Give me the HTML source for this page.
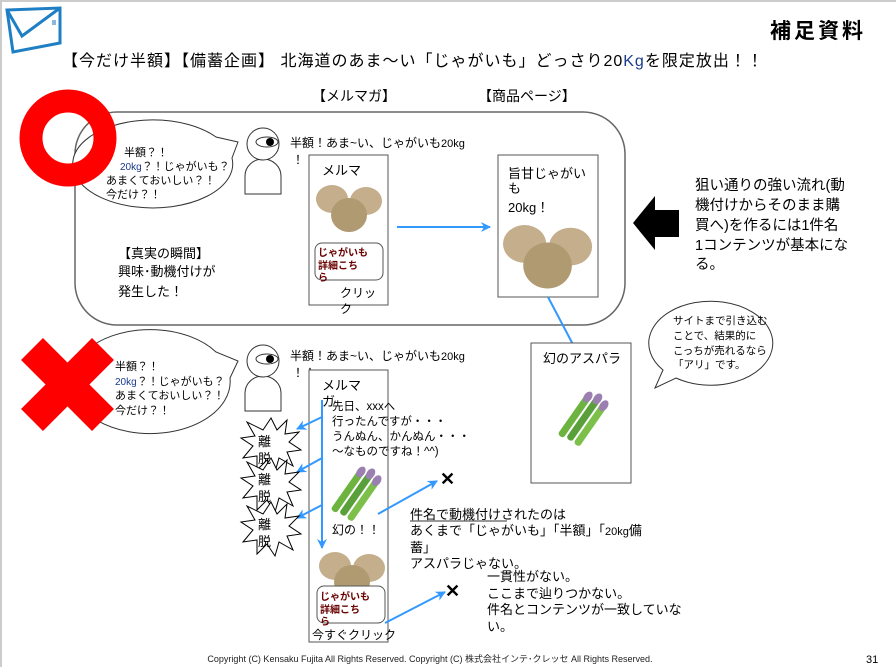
<!DOCTYPE html>
<html><head><meta charset="utf-8"><style>
html,body{margin:0;padding:0;background:#fff;}
svg{display:block;font-family:"Liberation Sans","Noto Sans CJK JP",sans-serif;}
</style></head><body>
<svg width="896" height="667" viewBox="0 0 896 667" xmlns="http://www.w3.org/2000/svg">
<defs>
<marker id="ab" markerWidth="10" markerHeight="10" refX="9" refY="5" orient="auto" markerUnits="userSpaceOnUse"><path d="M0,0 L10,5 L0,10 L3,5 Z" fill="#3399ff"/></marker>
<g id="pot">
<ellipse cx="16" cy="14" rx="16" ry="14" fill="#c4ae8c"/>
<ellipse cx="50" cy="16" rx="16" ry="14" fill="#c4ae8c"/>
<ellipse cx="33" cy="30" rx="18" ry="17" fill="#b09a72"/>
</g>
<g id="asp">
<g transform="rotate(35)">
<rect x="0" y="0" width="7" height="48" rx="3" fill="#6db33f"/>
<rect x="9" y="-4" width="7" height="50" rx="3" fill="#5aa03a"/>
<rect x="18" y="-2" width="7" height="48" rx="3" fill="#7cc04a"/>
<ellipse cx="3.5" cy="0" rx="4" ry="6" fill="#9a7fb0"/>
<ellipse cx="12.5" cy="-4" rx="4" ry="6" fill="#9a7fb0"/>
<ellipse cx="21.5" cy="-2" rx="4" ry="6" fill="#9a7fb0"/>
</g>
</g>
<path id="burst" d="M0,-26 L6,-14 L16,-24 L14,-10 L28,-12 L18,-2 L30,6 L16,8 L22,22 L8,14 L4,28 L-4,16 L-14,26 L-14,12 L-28,14 L-18,2 L-30,-6 L-16,-8 L-24,-22 L-8,-14 Z" fill="#fff" stroke="#000" stroke-width="1"/>
</defs>

<line x1="0" y1="1" x2="896" y2="1" stroke="#ccc" stroke-width="2"/>
<line x1="1" y1="0" x2="1" y2="667" stroke="#ccc" stroke-width="2"/>

<g stroke="#1f7fc4" stroke-width="3" fill="none">
<path d="M7,10 L60,8 L60,43 L13,52 Z"/>
<path d="M7,10 L22,36 L60,8"/>
</g>
<rect x="52" y="20" width="4" height="5" fill="#8ab7dd"/>

<text x="770" y="38" font-size="21" font-weight="bold" letter-spacing="3">補足資料</text>
<text x="62" y="66" font-size="16" letter-spacing="1">【今だけ半額】【備蓄企画】 北海道のあま～い「じゃがいも」どっさり20<tspan fill="#1a3a8a">Kg</tspan>を限定放出！！</text>
<text x="312" y="101" font-size="14">【メルマガ】</text>
<text x="478" y="101" font-size="14">【商品ページ】</text>

<rect x="75" y="112" width="550" height="213" rx="42" fill="none" stroke="#666" stroke-width="1.5"/>

<path d="M238,142 L232,158 A80,44 0 1 1 216,137 Z" fill="#fff" stroke="#333" stroke-width="1"/>
<circle cx="68" cy="138" r="37" fill="none" stroke="#f00" stroke-width="23"/>
<g font-size="11">
<text x="124" y="156">半額？！</text>
<text x="120" y="170"><tspan fill="#1a3a8a" font-size="10">20kg</tspan>？！じゃがいも？</text>
<text x="106" y="184">あまくておいしい？！</text>
<text x="106" y="198">今だけ？！</text>
</g>
<g font-size="13">
<text x="118" y="258">【真実の瞬間】</text>
<text x="118" y="276">興味･動機付けが</text>
<text x="118" y="296">発生した！</text>
</g>

<g fill="#fff" stroke="#333" stroke-width="1">
<path d="M245,194 L245,176 A18,17 0 0 1 281,176 L281,194 Z"/>
<circle cx="263" cy="144" r="16"/>
<ellipse cx="267" cy="142" rx="11" ry="5"/>
</g>
<circle cx="270" cy="142" r="4" fill="#000"/>
<text x="290" y="147" font-size="12">半額！あま~い、じゃがいも<tspan font-size="11">20kg</tspan></text>
<text x="292" y="164" font-size="12">！！</text>

<rect x="309" y="155" width="79" height="150" fill="#fff" stroke="#555" stroke-width="1"/>
<text x="322" y="175" font-size="13">メルマ</text>
<use href="#pot" x="316" y="185"/>
<rect x="315" y="243" width="68" height="37" rx="7" fill="#fff" stroke="#555"/>
<g font-size="10" font-weight="bold" fill="#6a0000">
<text x="318" y="256">じゃがいも</text>
<text x="318" y="269">詳細こち</text>
<text x="318" y="281">ら</text>
</g>
<text x="340" y="297" font-size="12">クリッ</text>
<text x="340" y="313" font-size="12">ク</text>

<line x1="397" y1="227" x2="490" y2="227" stroke="#3399ff" stroke-width="2" marker-end="url(#ab)"/>

<rect x="498" y="155" width="100" height="142" fill="#fff" stroke="#555"/>
<g font-size="13">
<text x="508" y="178">旨甘じゃがい</text>
<text x="508" y="193">も</text>
<text x="508" y="212">20kg！</text>
</g>
<g transform="translate(503,225) scale(1.35)"><use href="#pot"/></g>

<path d="M633,223 L655,196 L655,210 L679,210 L679,237 L655,237 L655,250 Z" fill="#000"/>
<g font-size="14.5">
<text x="695" y="190">狙い通りの強い流れ(動</text>
<text x="695" y="210">機付けからそのまま購</text>
<text x="695" y="230">買へ)を作るには1件名</text>
<text x="695" y="250">1コンテンツが基本にな</text>
<text x="695" y="269">る。</text>
</g>

<line x1="548" y1="297" x2="578" y2="354" stroke="#3399ff" stroke-width="2" marker-end="url(#ab)"/>
<rect x="531" y="343" width="100" height="140" fill="#fff" stroke="#555"/>
<text x="543" y="363" font-size="13">幻のアスパラ</text>
<use href="#asp" x="585" y="395"/>

<path d="M663,370 L655,388 L676,378 A62,42 0 1 0 663,370 Z" fill="#fff" stroke="#333"/>
<g font-size="10.5">
<text x="673" y="324">サイトまで引き込む</text>
<text x="673" y="339">ことで、結果的に</text>
<text x="673" y="354">こっちが売れるなら</text>
<text x="673" y="368">「アリ」です。</text>
</g>

<path d="M238,361 L230,378 A80,52 0 1 1 216,352 Z" fill="#fff" stroke="#333"/>
<g stroke="#f00" stroke-width="31"><line x1="32" y1="349" x2="103" y2="420"/><line x1="103" y1="349" x2="32" y2="420"/></g>
<g font-size="11">
<text x="115" y="370">半額？！</text>
<text x="115" y="385"><tspan fill="#1a3a8a" font-size="10">20kg</tspan>？！じゃがいも？</text>
<text x="115" y="399">あまくておいしい？！</text>
<text x="115" y="414">今だけ？！</text>
</g>

<g fill="#fff" stroke="#333" stroke-width="1">
<path d="M245,411 L245,393 A18,17 0 0 1 281,393 L281,411 Z"/>
<circle cx="263" cy="361" r="16"/>
<ellipse cx="267" cy="359" rx="11" ry="5"/>
</g>
<circle cx="270" cy="359" r="4" fill="#000"/>
<text x="290" y="360" font-size="12">半額！あま~い、じゃがいも<tspan font-size="11">20kg</tspan></text>
<text x="292" y="377" font-size="12">！！</text>

<rect x="309" y="370" width="79" height="272" fill="#fff" stroke="#555"/>
<text x="322" y="390" font-size="13">メルマ</text>
<text x="322" y="406" font-size="13">ガ</text>
<g font-size="11.5">
<text x="332" y="410">先日、xxxへ</text>
<text x="332" y="425">行ったんですが・・・</text>
<text x="332" y="440">うんぬん、かんぬん・・・</text>
<text x="332" y="455">～なものですね！^^)</text>
</g>
<use href="#asp" x="358" y="470"/>
<text x="332" y="534" font-size="12">幻の！！</text>
<use href="#pot" x="319" y="552"/>
<rect x="317" y="586" width="68" height="37" rx="7" fill="#fff" stroke="#555"/>
<g font-size="10" font-weight="bold" fill="#6a0000">
<text x="320" y="600">じゃがいも</text>
<text x="320" y="613">詳細こち</text>
<text x="320" y="625">ら</text>
</g>
<text x="312" y="639" font-size="12">今すぐクリック</text>

<line x1="322" y1="400" x2="322" y2="548" stroke="#3399ff" stroke-width="2" marker-end="url(#ab)"/>
<g stroke="#3399ff" stroke-width="2">
<line x1="322" y1="417" x2="297" y2="429" marker-end="url(#ab)"/>
<line x1="322" y1="458" x2="297" y2="472" marker-end="url(#ab)"/>
<line x1="322" y1="505" x2="297" y2="518" marker-end="url(#ab)"/>
</g>
<use href="#burst" x="271" y="444"/>
<use href="#burst" x="271" y="484"/>
<use href="#burst" x="271" y="528"/>
<g font-size="13">
<text x="258" y="446">離</text><text x="258" y="463">脱</text>
<text x="258" y="484">離</text><text x="258" y="501">脱</text>
<text x="258" y="529">離</text><text x="258" y="546">脱</text>
</g>

<line x1="378" y1="514" x2="437" y2="481" stroke="#3399ff" stroke-width="2" marker-end="url(#ab)"/>
<text x="440" y="485" font-size="18" font-weight="bold">✕</text>
<line x1="385" y1="623" x2="445" y2="592" stroke="#3399ff" stroke-width="2" marker-end="url(#ab)"/>
<text x="445" y="597" font-size="18" font-weight="bold">✕</text>

<g font-size="13">
<text x="410" y="519">件名で動機付けされたのは</text>
<line x1="410" y1="521" x2="507" y2="521" stroke="#333" stroke-width="1"/>
<text x="410" y="535">あくまで「じゃがいも」「半額」「<tspan font-size="11">20kg</tspan>備</text>
<text x="410" y="552">蓄」</text>
<text x="410" y="568">アスパラじゃない。</text>
<text x="487" y="581">一貫性がない。</text>
<text x="487" y="598">ここまで辿りつかない。</text>
<text x="487" y="614">件名とコンテンツが一致していな</text>
<text x="487" y="631">い。</text>
</g>

<text x="430" y="662" font-size="9" text-anchor="middle" fill="#222">Copyright (C) Kensaku Fujita All Rights Reserved. Copyright (C) 株式会社インテ･クレッセ All Rights Reserved.</text>
<text x="866" y="663" font-size="11">31</text>
</svg>
</body></html>
